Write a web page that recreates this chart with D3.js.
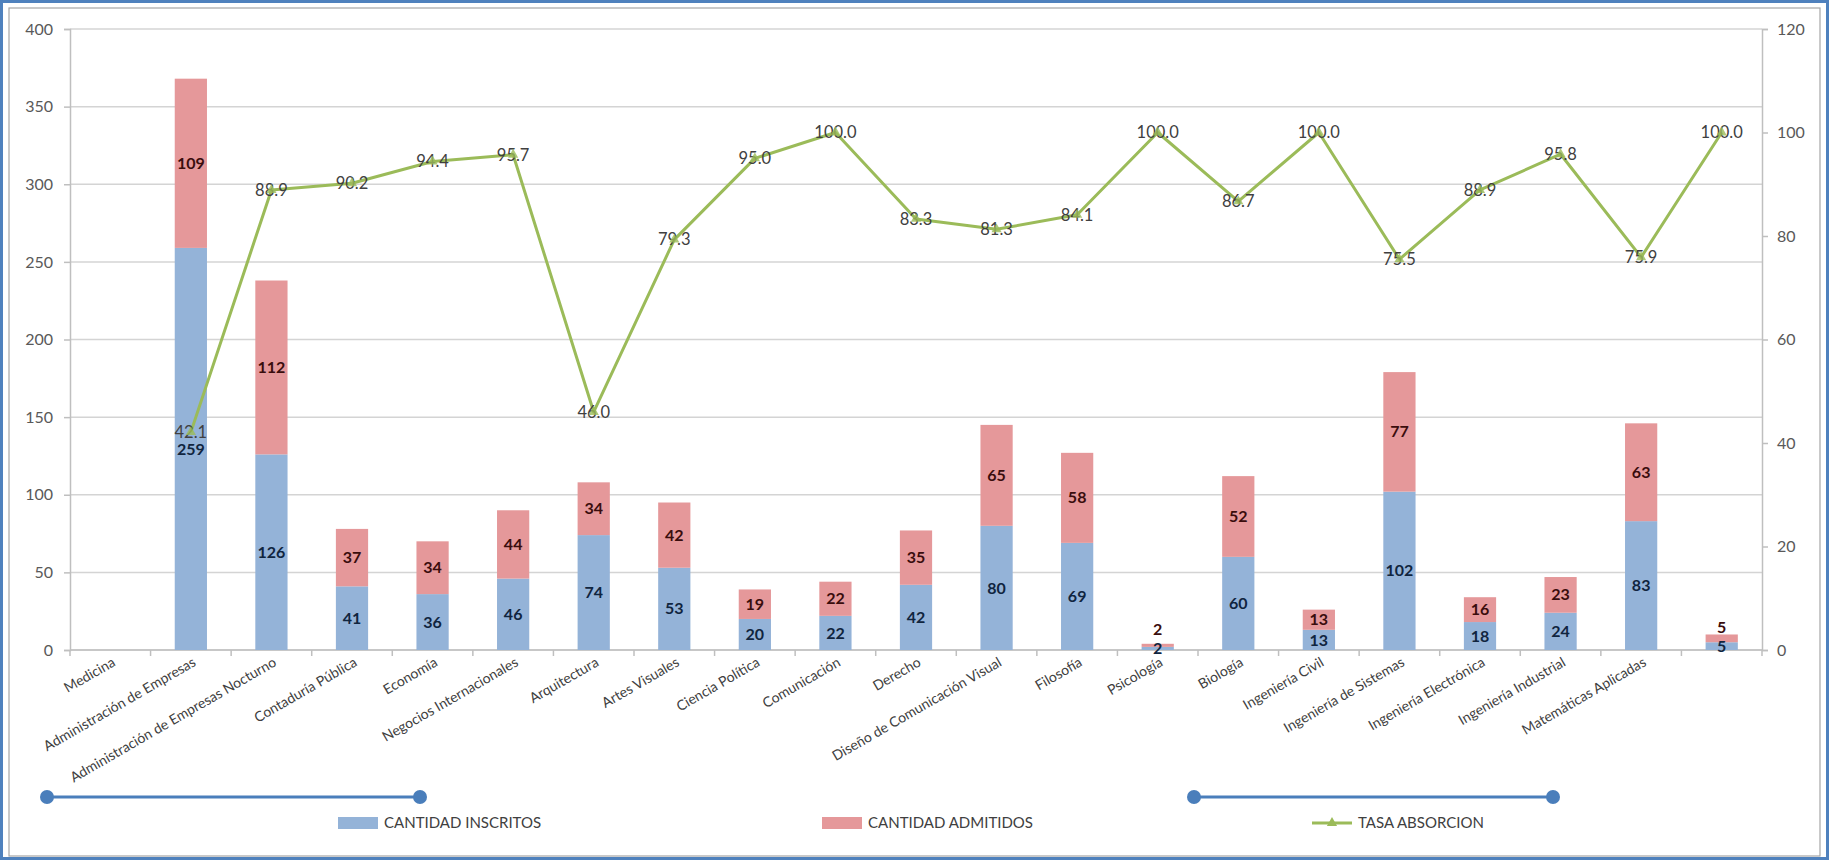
<!DOCTYPE html>
<html><head><meta charset="utf-8">
<script src="https://cdn.jsdelivr.net/npm/d3@7"></script>
<style>
html,body{margin:0;padding:0;background:#fff;}
svg{display:block;font-family:Lato,"Open Sans",sans-serif;}
</style></head>
<body>
<svg id="chart" width="1829" height="860"></svg>
<script>
const categories = ["Medicina","Administración de Empresas","Administración de Empresas Nocturno","Contaduría Pública","Economía","Negocios Internacionales","Arquitectura","Artes Visuales","Ciencia Política","Comunicación","Derecho","Diseño de Comunicación Visual","Filosofía","Psicología","Biología","Ingeniería Civil","Ingeniería de Sistemas","Ingeniería Electrónica","Ingeniería Industrial","Matemáticas Aplicadas",""];
const inscritos = [0,259,126,41,36,46,74,53,20,22,42,80,69,2,60,13,102,18,24,83,5];
const admitidos = [0,109,112,37,34,44,34,42,19,22,35,65,58,2,52,13,77,16,23,63,5];
const tasa = [null,42.1,88.9,90.2,94.4,95.7,46.0,79.3,95.0,100.0,83.3,81.3,84.1,100.0,86.7,100.0,75.5,88.9,95.8,75.9,100.0];
const leftTicks = [0,50,100,150,200,250,300,350,400];
const rightTicks = [0,20,40,60,80,100,120];
const seriesNames = ["CANTIDAD INSCRITOS","CANTIDAD ADMITIDOS","TASA ABSORCION"];

const C_BLUE = "#94b3d8", C_RED = "#e5989a", C_GREEN = "#9bbb59";
const svg = d3.select("#chart");
const L = 70, R = 1762, T = 29, B = 650;

// frame
svg.append("rect").attr("x",1.5).attr("y",1.5).attr("width",1826).attr("height",857)
  .attr("fill","#fff").attr("stroke","#4f81bd").attr("stroke-width",3);
svg.append("rect").attr("x",9).attr("y",8).attr("width",1811).attr("height",848)
  .attr("fill","none").attr("stroke","#a6a6a6").attr("stroke-width",1.2);

const x = d3.scaleBand().domain(d3.range(categories.length)).range([L,R]).paddingInner(0.6).paddingOuter(0.3);
const step = x.step();
const cx = i => x(i)+x.bandwidth()/2;
const yL = d3.scaleLinear().domain([0,400]).range([B,T]);
const yR = d3.scaleLinear().domain([0,120]).range([B,T]);

// gridlines
svg.append("g").selectAll("line").data(leftTicks).join("line")
  .attr("x1",L).attr("x2",R).attr("y1",d=>yL(d)).attr("y2",d=>yL(d))
  .attr("stroke","#d4d4d4").attr("stroke-width",1.5);

// axes
const gl = svg.append("g").attr("transform",`translate(${L},0)`)
  .call(d3.axisLeft(yL).tickValues(leftTicks).tickSize(6).tickPadding(11));
const gr = svg.append("g").attr("transform",`translate(${R},0)`)
  .call(d3.axisRight(yR).tickValues(rightTicks).tickSize(6).tickPadding(9));
[gl,gr].forEach(g=>{
  g.select(".domain").attr("stroke","#bfbfbf").attr("stroke-width",1.5);
  g.selectAll(".tick line").attr("stroke","#bfbfbf").attr("stroke-width",1.5);
  g.selectAll(".tick text").attr("fill","#595959").attr("font-size",16).attr("font-family","Lato");
});
// x baseline and ticks
svg.append("line").attr("x1",L).attr("x2",R).attr("y1",B).attr("y2",B).attr("stroke","#bfbfbf").attr("stroke-width",1.5);
svg.append("g").selectAll("line").data(d3.range(categories.length+1)).join("line")
  .attr("x1",i=>L+i*step).attr("x2",i=>L+i*step).attr("y1",B).attr("y2",B+6)
  .attr("stroke","#bfbfbf").attr("stroke-width",1.5);

// bars
const rows = categories.map((c,i)=>({i, ins:inscritos[i], adm:admitidos[i]}));
const bars = svg.append("g");
bars.selectAll("rect.ins").data(rows).join("rect").attr("class","ins")
  .attr("x",d=>x(d.i)).attr("width",x.bandwidth())
  .attr("y",d=>yL(d.ins)).attr("height",d=>B-yL(d.ins)).attr("fill",C_BLUE);
bars.selectAll("rect.adm").data(rows).join("rect").attr("class","adm")
  .attr("x",d=>x(d.i)).attr("width",x.bandwidth())
  .attr("y",d=>yL(d.ins+d.adm)).attr("height",d=>yL(d.ins)-yL(d.ins+d.adm)).attr("fill",C_RED);

// bar labels
const insY = d => (yL(d.ins)+B)/2;
const lab = svg.append("g").attr("font-family","Lato").attr("font-weight","bold").attr("font-size",16).attr("text-anchor","middle");
lab.selectAll("text.ins").data(rows.filter(d=>d.ins>0)).join("text").attr("class","ins")
  .attr("x",d=>cx(d.i))
  .attr("y",insY).attr("dy","0.35em")
  .attr("fill","#10253f").text(d=>d.ins);
lab.selectAll("text.adm").data(rows.filter(d=>d.adm>0)).join("text").attr("class","adm")
  .attr("x",d=>cx(d.i))
  .attr("y",d=>{
    const c = (yL(d.ins+d.adm)+yL(d.ins))/2;
    return Math.min(c, insY(d)-19);
  }).attr("dy","0.35em")
  .attr("fill","#3a0d0d").text(d=>d.adm);

// line
const pts = tasa.map((v,i)=>({i,v})).filter(d=>d.v!==null);
const line = d3.line().x(d=>cx(d.i)).y(d=>yR(d.v));
svg.append("path").datum(pts).attr("d",line).attr("fill","none")
  .attr("stroke",C_GREEN).attr("stroke-width",3).attr("stroke-linejoin","round");
// line labels
svg.append("g").selectAll("text").data(pts).join("text")
  .attr("x",d=>cx(d.i)).attr("y",d=>yR(d.v)).attr("dy","0.35em")
  .attr("text-anchor","middle").attr("font-family","Lato").attr("font-size",16.5)
  .attr("fill","#404040").text(d=>d.v.toFixed(1));
// markers
svg.append("g").selectAll("path").data(pts).join("path")
  .attr("transform",d=>`translate(${cx(d.i)},${yR(d.v)})`)
  .attr("d",d3.symbol(d3.symbolTriangle,45)).attr("fill",C_GREEN).attr("opacity",0.8);

// category labels
svg.append("g").selectAll("text").data(categories).join("text")
  .attr("transform",(d,i)=>`translate(${cx(i)+6},${B+15}) rotate(-30)`)
  .attr("text-anchor","end").attr("font-family","Lato").attr("font-size",14)
  .attr("fill","#404040").text(d=>d);

// decorative connectors
const deco = [[47,420],[1194,1553]];
deco.forEach(([a,b])=>{
  svg.append("line").attr("x1",a).attr("x2",b).attr("y1",797).attr("y2",797).attr("stroke","#4a7ebb").attr("stroke-width",3);
  [a,b].forEach(px=>svg.append("circle").attr("cx",px).attr("cy",797).attr("r",7).attr("fill","#4a7ebb"));
});

// legend
const lg = svg.append("g").attr("font-family","Lato").attr("font-size",15).attr("fill","#404040");
const legendItems = [
  {name:seriesNames[0], x:338, type:"rect", color:C_BLUE},
  {name:seriesNames[1], x:822, type:"rect", color:C_RED},
  {name:seriesNames[2], x:1312, type:"line", color:C_GREEN}
];
legendItems.forEach(it=>{
  if(it.type==="rect"){
    lg.append("rect").attr("x",it.x).attr("y",817).attr("width",40).attr("height",12).attr("fill",it.color);
  } else {
    lg.append("line").attr("x1",it.x).attr("x2",it.x+40).attr("y1",823).attr("y2",823).attr("stroke",it.color).attr("stroke-width",3);
    lg.append("path").attr("transform",`translate(${it.x+20},823)`).attr("d",d3.symbol(d3.symbolTriangle,45)).attr("fill",it.color);
  }
  lg.append("text").attr("x",it.x+46).attr("y",823).attr("dy","0.35em").text(it.name);
});
</script>
</body></html>
